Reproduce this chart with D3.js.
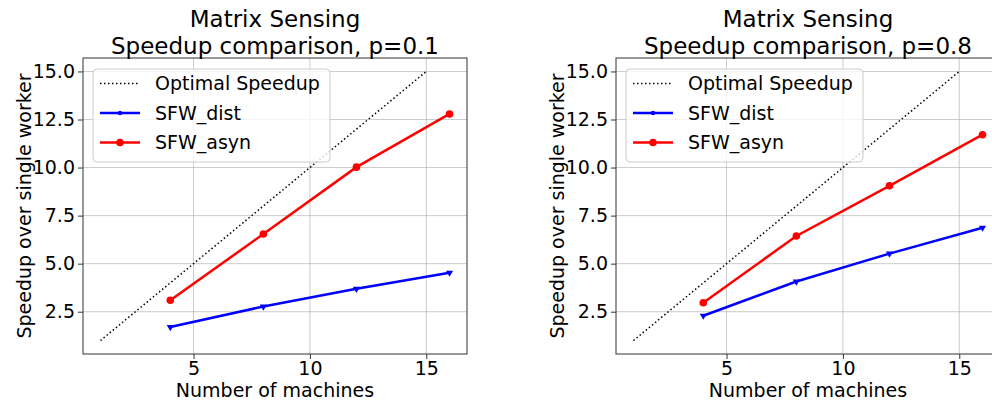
<!DOCTYPE html>
<html>
<head>
<meta charset="utf-8">
<script src="https://cdn.jsdelivr.net/npm/d3@7"></script>
<style>
  body { margin: 0; background: #fff; }
  svg { display: block; font-family: "DejaVu Sans", sans-serif; }
</style>
</head>
<body>
<script>
// data
var machines = [4, 8, 12, 16];
var optimalX = [1, 15];
var distP01 = [1.70, 2.77, 3.69, 4.53];
var asynP01 = [3.10, 6.54, 10.02, 12.79];
var distP08 = [2.29, 4.07, 5.52, 6.87];
var asynP08 = [2.97, 6.44, 9.05, 11.71];
var xTicks = [5, 10, 15];
var yTicks = [2.5, 5.0, 7.5, 10.0, 12.5, 15.0];
var titles = ['Speedup comparison, p=0.1', 'Speedup comparison, p=0.8'];

var width = 992, height = 402;
var svg = d3.select('body').append('svg').attr('width', width).attr('height', height);

var panels = [
  { left: 83, title: titles[0], dist: distP01, asyn: asynP01 },
  { left: 616, title: titles[1], dist: distP08, asyn: asynP08 }
];

// window.top is taken, so axTop
var axTop = 58, axBottom = 354, axW = 384;

panels.forEach(function (p) {
  var x = d3.scaleLinear().domain([0.25, 16.75]).range([p.left, p.left + axW]);
  var y = d3.scaleLinear().domain([0.3, 15.7]).range([axBottom, axTop]);
  var g = svg.append('g');

  // grid
  g.selectAll('.gx').data(xTicks).enter().append('line')
    .attr('x1', d => x(d)).attr('x2', d => x(d)).attr('y1', axTop).attr('y2', axBottom)
    .attr('stroke', '#b0b0b0').attr('stroke-width', 0.8).attr('opacity', 0.8);
  g.selectAll('.gy').data(yTicks).enter().append('line')
    .attr('x1', p.left).attr('x2', p.left + axW).attr('y1', d => y(d)).attr('y2', d => y(d))
    .attr('stroke', '#b0b0b0').attr('stroke-width', 0.8).attr('opacity', 0.8);

  // axes
  var xa = g.append('g').attr('transform', 'translate(0,' + axBottom + ')')
    .call(d3.axisBottom(x).tickValues(xTicks).tickSize(5).tickPadding(3).tickFormat(d3.format('d')));
  var ya = g.append('g').attr('transform', 'translate(' + p.left + ',0)')
    .call(d3.axisLeft(y).tickValues(yTicks).tickSize(5).tickPadding(3).tickFormat(d3.format('.1f')));
  [xa, ya].forEach(function (a) {
    a.select('.domain').remove();
    a.selectAll('text').attr('font-size', 19).attr('fill', '#000').attr('font-family', 'DejaVu Sans');
    a.selectAll('line').attr('stroke', '#333');
  });

  // spines
  g.append('rect').attr('x', p.left).attr('y', axTop).attr('width', axW).attr('height', axBottom - axTop)
    .attr('fill', 'none').attr('stroke', '#333').attr('stroke-width', 1);

  // lines
  var line = d3.line().x(d => x(d[0])).y(d => y(d[1]));
  g.append('path').datum(optimalX.map(v => [v, v])).attr('d', line)
    .attr('fill', 'none').attr('stroke', '#000').attr('stroke-width', 1.5).attr('stroke-dasharray', '1.5,2.5');

  var distPts = machines.map((m, i) => [m, p.dist[i]]);
  var asynPts = machines.map((m, i) => [m, p.asyn[i]]);
  g.append('path').datum(distPts).attr('d', line)
    .attr('fill', 'none').attr('stroke', 'blue').attr('stroke-width', 2.5);
  g.selectAll('.md').data(distPts).enter().append('path')
    .attr('d', d3.symbol().type(d3.symbolTriangle).size(22))
    .attr('transform', d => 'translate(' + x(d[0]) + ',' + y(d[1]) + ') rotate(180)')
    .attr('fill', 'blue');
  g.append('path').datum(asynPts).attr('d', line)
    .attr('fill', 'none').attr('stroke', 'red').attr('stroke-width', 2.5);
  g.selectAll('.ma').data(asynPts).enter().append('circle')
    .attr('cx', d => x(d[0])).attr('cy', d => y(d[1])).attr('r', 3.8).attr('fill', 'red');

  // legend
  var lx = p.left + 10, ly = 69;
  g.append('rect').attr('x', lx).attr('y', ly).attr('width', 237).attr('height', 93).attr('rx', 4)
    .attr('fill', 'rgba(255,255,255,0.8)').attr('stroke', '#ccc').attr('stroke-width', 1);
  var items = [
    { name: 'Optimal Speedup', color: '#000', dash: '1.5,2.5', w: 1.5 },
    { name: 'SFW_dist', color: 'blue', dash: null, w: 2.5, mk: 'tri' },
    { name: 'SFW_asyn', color: 'red', dash: null, w: 2.5, mk: 'dot' }
  ];
  items.forEach(function (it, i) {
    var yy = 83.5 + i * 29.5;
    g.append('line').attr('x1', lx + 7).attr('x2', lx + 47).attr('y1', yy).attr('y2', yy)
      .attr('stroke', it.color).attr('stroke-width', it.w).attr('stroke-dasharray', it.dash);
    if (it.mk === 'tri') {
      g.append('circle').attr('cx', lx + 27).attr('cy', yy).attr('r', 2.2).attr('fill', it.color);
    } else if (it.mk === 'dot') {
      g.append('circle').attr('cx', lx + 27).attr('cy', yy).attr('r', 3.8).attr('fill', it.color);
    }
    g.append('text').attr('x', lx + 62).attr('y', yy).attr('dy', '0.36em')
      .attr('font-size', 19).text(it.name);
  });

  // titles and labels
  var cx = p.left + axW / 2;
  g.append('text').attr('x', cx).attr('y', 27).attr('text-anchor', 'middle').attr('font-size', 23).text('Matrix Sensing');
  g.append('text').attr('x', cx).attr('y', 54).attr('text-anchor', 'middle').attr('font-size', 23).text(p.title);
  g.append('text').attr('x', cx).attr('y', 397).attr('text-anchor', 'middle').attr('font-size', 19).text('Number of machines');
  g.append('text').attr('transform', 'translate(' + (p.left - 52) + ',' + ((axTop + axBottom) / 2) + ') rotate(-90)')
    .attr('text-anchor', 'middle').attr('font-size', 19).text('Speedup over single worker');
});
</script>
</body>
</html>
